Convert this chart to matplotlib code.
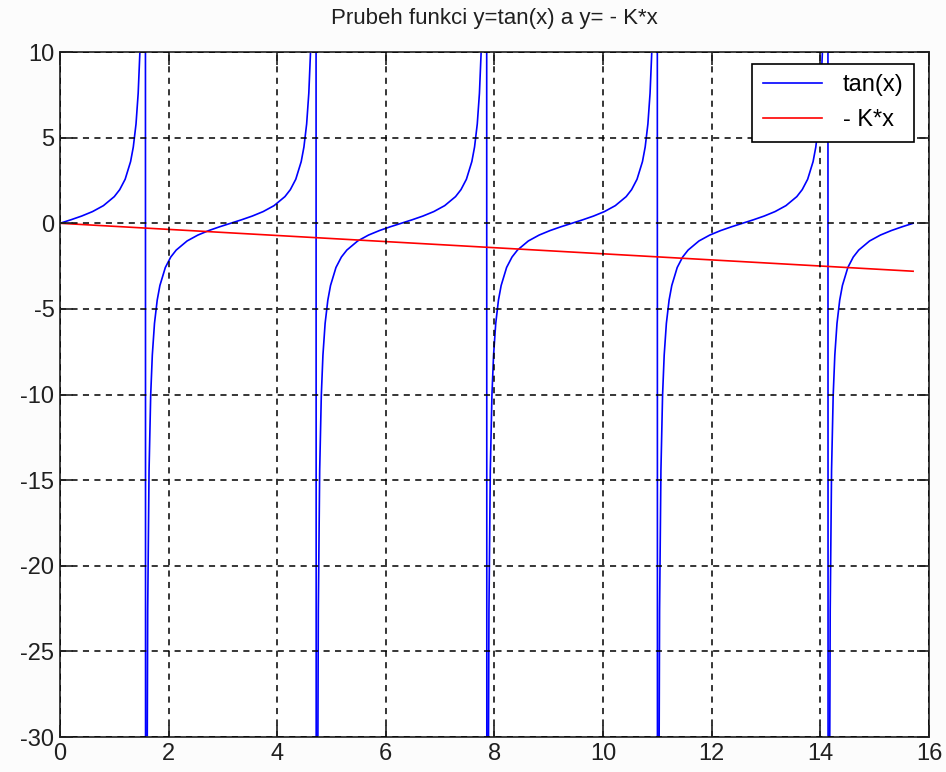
import matplotlib
matplotlib.use('Agg')
import matplotlib.pyplot as plt
from matplotlib import font_manager

# --- data ---
# one period of tan(x): offset inside the period and value
period_offset = [0.0, 0.2, 0.4, 0.6, 0.8, 1.0, 1.1, 1.2, 1.3, 1.35, 1.4, 1.44, 1.47, 1.50,
                 1.53, 1.55, 1.565, 1.58, 1.595, 1.615, 1.64, 1.67, 1.70, 1.74, 1.79, 1.84,
                 1.94, 2.04, 2.14, 2.34, 2.54, 2.74, 2.94, 3.1416]
period_tan = [0.0, 0.203, 0.423, 0.684, 1.030, 1.557, 1.965, 2.572, 3.602, 4.455, 5.798,
              7.60, 9.89, 14.10, 24.5, 48.1, 172.5, -108.6, -41.3, -22.6, -14.43, -10.05,
              -7.70, -5.85, -4.49, -3.63, -2.58, -1.97, -1.565, -1.033, -0.687, -0.425,
              -0.204, 0.0]
period_start = [0.0, 3.1416, 6.2832, 9.4248, 12.5664]

line_x = [0.0, 15.708]
line_y = [0.0, -2.8]

x_ticks = [0, 2, 4, 6, 8, 10, 12, 14, 16]
y_ticks = [-30, -25, -20, -15, -10, -5, 0, 5, 10]

title_str = 'Prubeh funkci y=tan(x) a y= - K*x'
legend_labels = ['tan(x)', '- K*x']

# build tan curve from the repeated period
tan_x = []
tan_y = []
for start in period_start:
    for d, v in zip(period_offset, period_tan):
        tan_x.append(start + d)
        tan_y.append(v)

names = [f.name for f in font_manager.fontManager.ttflist]
family = 'Liberation Sans Narrow' if 'Liberation Sans Narrow' in names else 'Liberation Sans'
plt.rcParams['font.family'] = [family, 'DejaVu Sans']
plt.rcParams['axes.unicode_minus'] = False

fig = plt.figure(figsize=(9.46, 7.72), dpi=100)
fig.patch.set_facecolor('#fcfcfc')
ax = fig.add_axes([0.0634, 0.0453, 0.9186, 0.8873])

ax.plot(tan_x, tan_y, color='#0000ff', linewidth=1.2, label=legend_labels[0])
ax.plot(line_x, line_y, color='#ff0000', linewidth=1.2, label=legend_labels[1])

ax.set_xlim(0, 16)
ax.set_ylim(-30, 10)
ax.set_xticks(x_ticks)
ax.set_yticks(y_ticks)
ax.tick_params(direction='in', length=9, width=1.2, top=True, right=True,
               labelsize=17, colors='#202020', pad=4)
for sp in ax.spines.values():
    sp.set_linewidth(1.3)
    sp.set_color('#303030')

ax.grid(True, color='black', linestyle=(0, (4, 3.5)), linewidth=1.1)
ax.set_axisbelow(False)

ax.set_title(title_str, fontsize=16, pad=20, color='#202020')

leg = ax.legend(loc='upper right', bbox_to_anchor=(0.983, 0.983), fontsize=17,
                fancybox=False, framealpha=1, edgecolor='black', borderaxespad=0,
                handlelength=2.5, handletextpad=0.9, borderpad=0.45, labelspacing=0.55)
leg.get_frame().set_linewidth(1.2)

fig.savefig('out.png', dpi=100, facecolor=fig.get_facecolor())
